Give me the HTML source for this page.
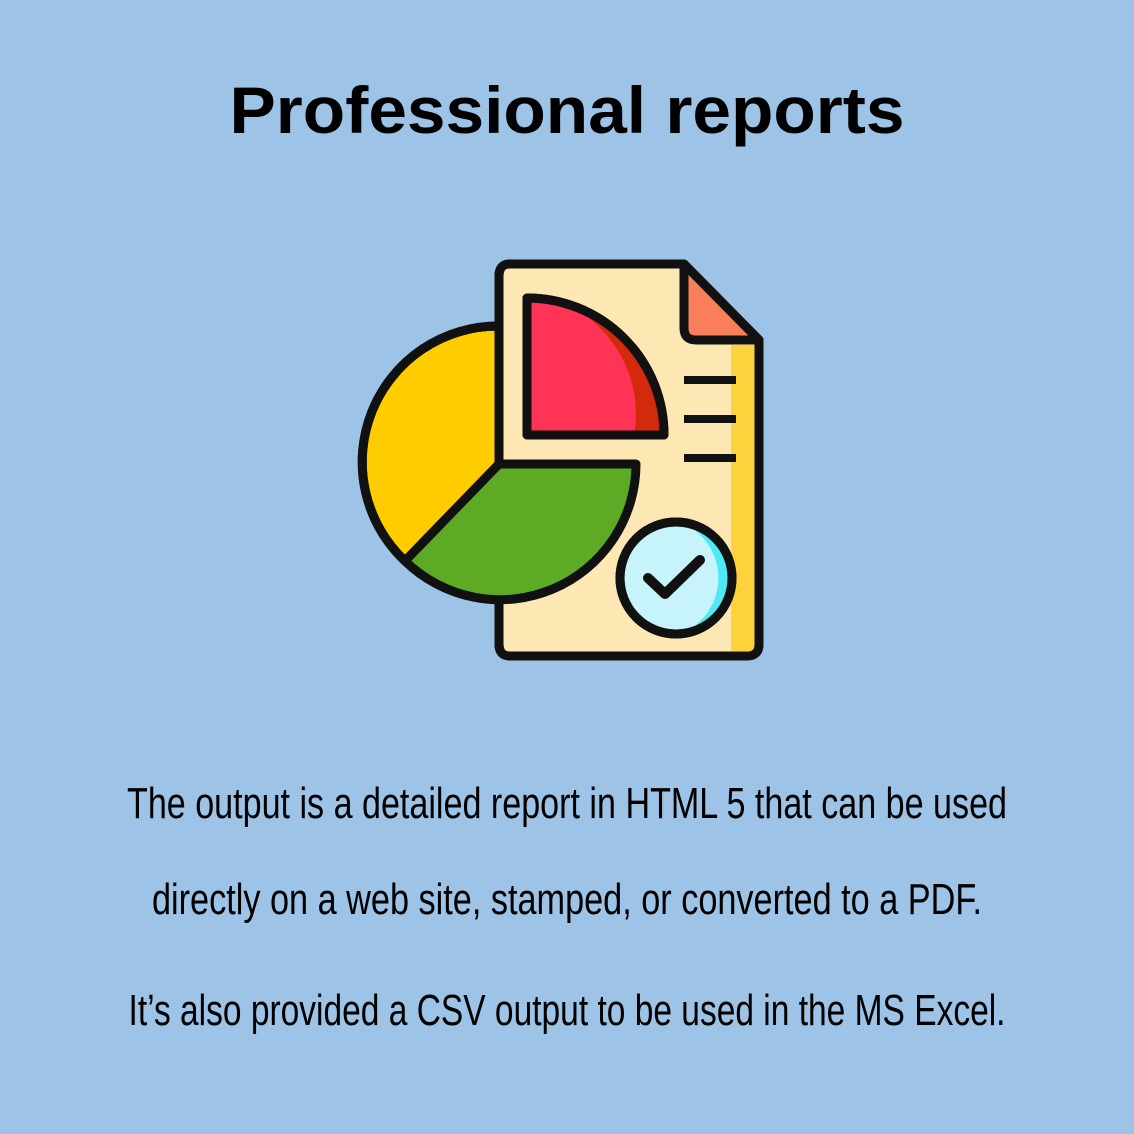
<!DOCTYPE html>
<html><head><meta charset="utf-8"><style>
html,body{margin:0;padding:0;background:#9dc3e6;}
svg{display:block}
</style></head><body>
<svg width="1134" height="1134" viewBox="0 0 1134 1134">
<rect width="1134" height="1134" fill="#9dc3e6"/>
<text x="567" y="133" text-anchor="middle" font-family="'Liberation Sans',sans-serif" font-weight="bold" font-size="66" textLength="675" lengthAdjust="spacingAndGlyphs" fill="#000">Professional reports</text>

<g stroke="#111" stroke-width="9" stroke-linejoin="round">
  <path d="M510,264 H684 L759,340 V644 Q759,656 747,656 H510 Q499,656 499,644 V276 Q499,264 510,264 Z" fill="#fde8b4"/>
  <rect x="731" y="345" width="24" height="306" fill="#fdd23c" stroke="none"/>
  <path d="M759,340 V644 Q759,656 747,656 H510 Q499,656 499,644 V276 Q499,264 510,264 H684 Z" fill="none"/>
  <path d="M684,264 V328 Q684,340 696,340 H759 Z" fill="#f97f5a"/>
  <g stroke-width="8" stroke-linecap="butt">
    <line x1="684" y1="380" x2="736" y2="380"/>
    <line x1="684" y1="419" x2="736" y2="419"/>
    <line x1="684" y1="458" x2="736" y2="458"/>
  </g>
  <path d="M527,298 A137,137 0 0 1 664,435 H527 Z" fill="#ff3355"/>
  <path d="M560,302 A137,137 0 0 1 664,435 H634 A120,120 0 0 0 560,302 Z" fill="#d22a0a" stroke="none"/>
  <path d="M527,298 A137,137 0 0 1 664,435 H527 Z" fill="none"/>
  <path d="M499,326 A136,136 0 0 0 405,561 L499,464 Z" fill="#ffcc00"/>
  <path d="M405,561 A136,136 0 0 0 636,464 H499 Z" fill="#5daa24"/>
  <path d="M499,326 A136,136 0 0 0 405,561" fill="none"/>
  <circle cx="676" cy="578" r="56" fill="#c6f4fa"/>
  <path d="M690,527 A52,52 0 0 1 690,629 A60,60 0 0 0 690,527 Z" fill="#4fe9f6" stroke="none"/>
  <circle cx="676" cy="578" r="56" fill="none"/>
  <path d="M648,578 L665,594 L700,560" fill="none" stroke-width="10" stroke-linecap="round"/>
</g>

<g font-family="'Liberation Sans Narrow','Liberation Sans',sans-serif" font-size="44" fill="#000" text-anchor="middle">
<text x="567" y="818" textLength="880" lengthAdjust="spacingAndGlyphs">The output is a detailed report in HTML 5 that can be used</text>
<text x="567" y="914" textLength="830" lengthAdjust="spacingAndGlyphs">directly on a web site, stamped, or converted to a PDF.</text>
<text x="567" y="1025" textLength="877" lengthAdjust="spacingAndGlyphs">It’s also provided a CSV output to be used in the MS Excel.</text>
</g>
</svg>
</body></html>
